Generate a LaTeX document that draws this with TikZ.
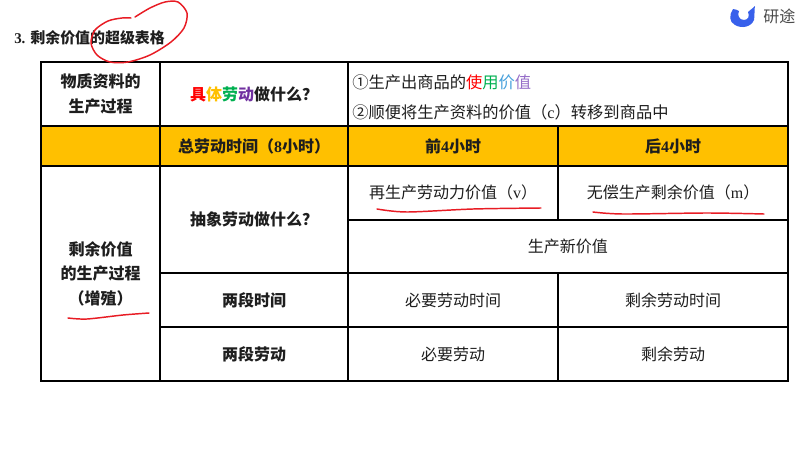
\documentclass[tikz,border=0pt]{standalone}
\usepackage{fontspec}
\setmainfont{Noto Sans CJK SC}
\newfontfamily\lsf{Liberation Serif}
\usepackage{xcolor}
\usetikzlibrary{positioning}
\definecolor{goldrow}{RGB}{255, 192, 0}
\definecolor{inkred}{RGB}{232, 28, 36}
\definecolor{wordred}{RGB}{255, 0, 0}
\definecolor{wordorange}{RGB}{255, 192, 0}
\definecolor{wordgreen}{RGB}{0, 176, 80}
\definecolor{wordpurple}{RGB}{112, 48, 160}
\definecolor{wordblue}{RGB}{70, 160, 220}
\definecolor{wordlilac}{RGB}{150, 110, 200}
\definecolor{logoblue}{RGB}{56, 96, 235}
\definecolor{textdark}{RGB}{30, 30, 30}
\begin{document}
\begin{tikzpicture}[
    x=0.75pt, y=-0.75pt,
    cell/.style={rectangle, draw=black, line width=1.5pt, outer sep=0pt, inner sep=2pt, align=center, text=textdark, font=\fontsize{12}{18.4}\selectfont},
    head/.style={cell, font=\fontsize{12}{18.4}\selectfont\bfseries},
    goldcell/.style={head, fill=goldrow},
    colA/.style={minimum width=89.6pt},
    colB/.style={minimum width=140.6pt},
    colC/.style={minimum width=157.9pt},
    colD/.style={minimum width=172.1pt},
    colCD/.style={minimum width=330pt},
    ink/.style={draw=inkred, line width=1.1pt, line cap=round, line join=round}
]
\useasboundingbox (0,0) rectangle (800,450);
\fill[white] (0,0) rectangle (800,450);

% Title
\node[anchor=west, inner sep=0pt, text=textdark, font=\fontsize{11.2}{14}\selectfont\bfseries] (title) at (14,38) {{\lsf 3. }剩余价值的超级表格};

% Logo
\fill[logoblue] (733,9) .. controls (729,15) and (729,22) .. (735,25) .. controls (742,29) and (751,27) .. (754,20) .. controls (755,15) and (754,10) .. (755,6) .. controls (752,9) and (750,10) .. (748,12) .. controls (750,16) and (748,20) .. (744,20) .. controls (739,20) and (737,15) .. (739,11) .. controls (737,10) and (735,9) .. (733,9) -- cycle;
\node[anchor=west, inner sep=0pt, text=textdark!80, font=\fontsize{12}{14}\selectfont] (logo) at (763,16) {研途};

% First row
\node[head, colA, minimum height=48pt, anchor=north west] (matter) at (41,62) {物质资料的\\生产过程};
\node[head, colB, minimum height=48pt, right=0pt of matter] (concrete) {\textcolor{wordred}{具}\textcolor{wordorange}{体}\textcolor{wordgreen}{劳}\textcolor{wordpurple}{动}做什么？};
\node[cell, colCD, minimum height=48pt, right=0pt of concrete] (usevalue) {};
\node[anchor=west, inner sep=0pt, text=textdark, font=\fontsize{12.2}{15}\selectfont] (useA) at (352,82) {①生产出商品的\textcolor{wordred}{使}\textcolor{wordgreen}{用}\textcolor{wordblue}{价}\textcolor{wordlilac}{值}};
\node[anchor=west, inner sep=0pt, text=textdark, font=\fontsize{12.2}{15}\selectfont] (useB) at (352,112) {②顺便将生产资料的价值（{\lsf c}）转移到商品中};

% Gold row
\node[goldcell, colA, minimum height=30pt, below=0pt of matter.south west, anchor=north west] (goldA) {};
\node[goldcell, colB, minimum height=30pt, right=0pt of goldA] (total) {总劳动时间（{\lsf 8}小时）};
\node[goldcell, colC, minimum height=30pt, right=0pt of total] (front) {前{\lsf 4}小时};
\node[goldcell, colD, minimum height=30pt, right=0pt of front] (back) {后{\lsf 4}小时};

% Left column
\node[head, colA, minimum height=161.2pt, below=0pt of goldA.south west, anchor=north west] (surplus) {剩余价值\\的生产过程\\（增殖）};

% Abstract labour
\node[head, colB, minimum height=80.4pt, below=0pt of total.south west, anchor=north west] (abstract) {抽象劳动做什么？};
\node[cell, colC, minimum height=40.2pt, below=0pt of front.south west, anchor=north west] (repro) {再生产劳动力价值（{\lsf v}）};
\node[cell, colD, minimum height=40.2pt, right=0pt of repro] (unpaid) {无偿生产剩余价值（{\lsf m}）};
\node[cell, colCD, minimum height=40.2pt, below=0pt of repro.south west, anchor=north west] (newvalue) {生产新价值};

% Two periods
\node[head, colB, minimum height=40.4pt, below=0pt of abstract.south west, anchor=north west] (periods) {两段时间};
\node[cell, colC, minimum height=40.4pt, right=0pt of periods] (needtime) {必要劳动时间};
\node[cell, colD, minimum height=40.4pt, right=0pt of needtime] (moretime) {剩余劳动时间};

% Two kinds of labour
\node[head, colB, minimum height=40.4pt, below=0pt of periods.south west, anchor=north west] (labours) {两段劳动};
\node[cell, colC, minimum height=40.4pt, right=0pt of labours] (needwork) {必要劳动};
\node[cell, colD, minimum height=40.4pt, right=0pt of needwork] (morework) {剩余劳动};

% Red pen marks
\draw[ink] plot[smooth] coordinates {(135,17) (150,8) (165,2) (178,2) (187,13) (184,28) (171,42) (150,55) (128,62) (110,62) (97,55) (91,43) (95,30) (108,21) (122,18) (131,18)};
\draw[ink] plot[smooth] coordinates {(377,209) (407,212) (473,209) (541,208)};
\draw[ink] plot[smooth] coordinates {(593,212) (623,214) (707,213) (764,214)};
\draw[ink] plot[smooth] coordinates {(68,318) (87,319) (123,315) (149,313)};
\end{tikzpicture}
\end{document}
